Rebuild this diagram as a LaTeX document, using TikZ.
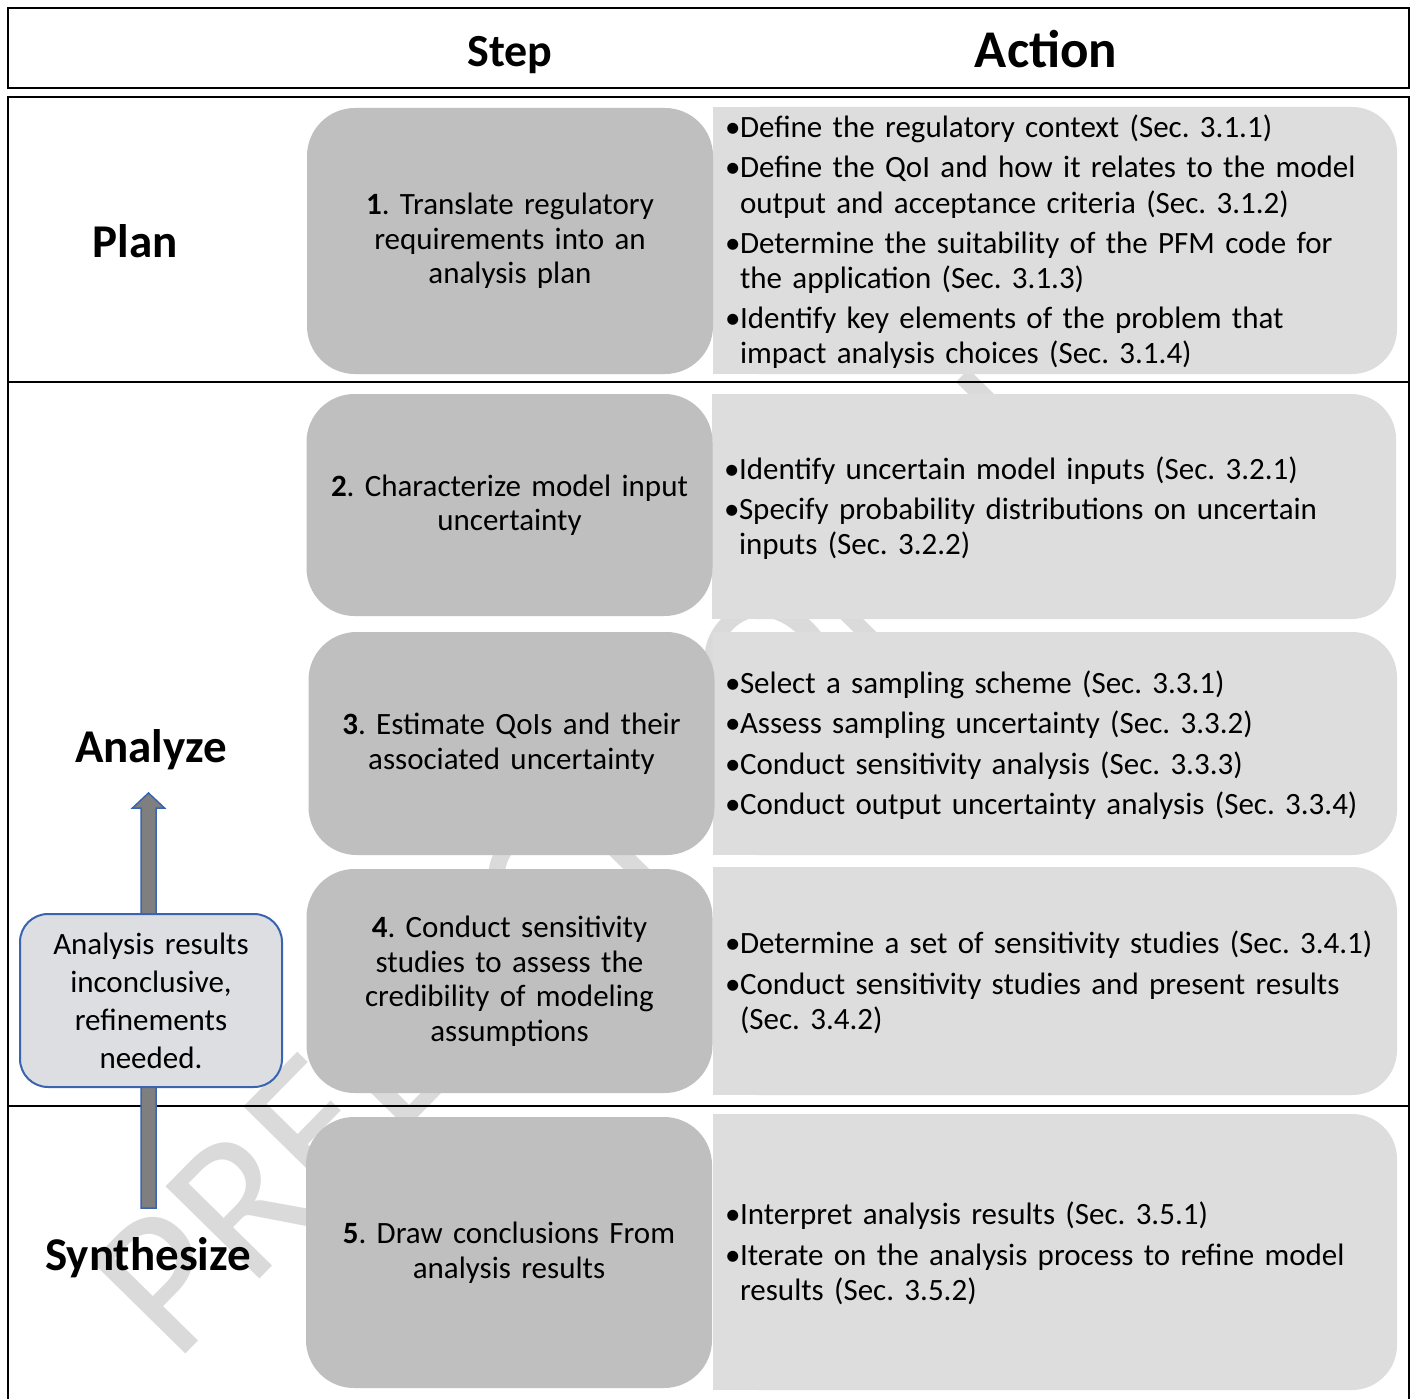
\documentclass[tikz,border=0pt]{standalone}
\usepackage{fontspec}
\setmainfont{Carlito}
\usetikzlibrary{calc}
\pgfdeclarelayer{bg}
\pgfsetlayers{bg,main}
\definecolor{stepgray}{HTML}{BFBFBF}
\definecolor{actgray}{HTML}{DDDDDD}
\definecolor{fbfill}{HTML}{DDDEE1}
\definecolor{fbblue}{HTML}{3A64B0}
\definecolor{arrgray}{HTML}{7F7F7F}
\definecolor{wmgray}{HTML}{DADADA}
\frenchspacing
\newcommand\bitem[1]{\par\hangindent=15pt\hangafter=1\noindent\makebox[15pt][l]{\textbullet}#1\par}
\newcommand\nl{\hfil\break}
\newcommand\actskip{\setlength{\parskip}{5.5pt}}
\newcommand\actend{\par\kern15pt}
\tikzset{
  stepbox/.style={fill=stepgray, rounded corners=48pt, align=center, text width=390pt,
    inner sep=0pt, minimum width=406pt, font=\fontsize{31}{34.5}\selectfont},
  actbox/.style={fill=actgray, rounded corners=45pt, align=left, text width=660pt,
    inner xsep=12pt, inner ysep=-12pt, font=\fontsize{31}{35}\selectfont,
    execute at begin node=\actskip},
  rowlabel/.style={anchor=base, inner sep=0pt, font=\fontsize{47}{50}\selectfont\bfseries},
  fbbox/.style={draw=fbblue, line width=2pt, fill=fbfill, rounded corners=28pt,
    minimum width=262pt, minimum height=173pt, text width=250pt, align=center,
    inner sep=0pt, font=\fontsize{31}{38}\selectfont},
  frameline/.style={line width=2.5pt, black}
}
\begin{document}
\begin{tikzpicture}[x=1pt,y=-1pt]
\useasboundingbox (0,0) rectangle (1411,1399);

% background and watermark (behind boxes)
\begin{pgfonlayer}{bg}
\fill[white] (0,0) rectangle (1411,1399);
\node[anchor=base west, rotate=45.5, inner sep=0pt, text=wmgray,
  font=\fontsize{205}{205}\selectfont] (wm) at (175,1365) {PREDECISIONAL};
\end{pgfonlayer}

% header
\draw[frameline] (8,8) rectangle (1409,88);
\node[rowlabel, font=\fontsize{46}{50}\selectfont\bfseries] (hstep) at (510,67) {Step};
\node[rowlabel, font=\fontsize{53}{56}\selectfont\bfseries] (hact) at (1046,68) {Action};

% main frame
\draw[frameline] (8,1410) -- (8,97) -- (1409,97) -- (1409,1410);
\draw[frameline] (8,382) -- (1409,382);
\draw[line width=2pt] (8,1106) -- (1409,1106);

% row labels
\node[rowlabel] (plan) at (135,258) {Plan};
\node[rowlabel] (analyze) at (151,762) {Analyze};
\node[rowlabel] (synth) at (148,1270) {Synthesize};

% action boxes
\node[actbox, minimum height=267pt] (a1) at (1055,240.5) {%
\bitem{Define the regulatory context (Sec. 3.1.1)}%
\bitem{Define the QoI and how it relates to the model\nl output and acceptance criteria (Sec. 3.1.2)}%
\bitem{Determine the suitability of the PFM code for\nl the application (Sec. 3.1.3)}%
\bitem{Identify key elements of the problem that\nl impact analysis choices (Sec. 3.1.4)}\actend};
\node[actbox, minimum height=225pt] (a2) at (1054,506.5) {%
\bitem{Identify uncertain model inputs (Sec. 3.2.1)}%
\bitem{Specify probability distributions on uncertain\nl inputs (Sec. 3.2.2)}\actend};
\node[actbox, minimum height=223pt] (a3) at (1055,743.5) {%
\bitem{Select a sampling scheme (Sec. 3.3.1)}%
\bitem{Assess sampling uncertainty (Sec. 3.3.2)}%
\bitem{Conduct sensitivity analysis (Sec. 3.3.3)}%
\bitem{Conduct output uncertainty analysis (Sec. 3.3.4)}\actend};
\node[actbox, minimum height=228pt] (a4) at (1055,981) {%
\bitem{Determine a set of sensitivity studies (Sec. 3.4.1)}%
\bitem{Conduct sensitivity studies and present results\nl (Sec. 3.4.2)}\actend};
\node[actbox, minimum height=276pt] (a5) at (1055,1252) {%
\bitem{Interpret analysis results (Sec. 3.5.1)}%
\bitem{Iterate on the analysis process to refine model\nl results (Sec. 3.5.2)}\actend};
\begin{pgfonlayer}{bg}
\foreach \n in {a1,a2,a3,a4,a5}{
  \fill[actgray] (\n.north west) rectangle ($(\n.south west)+(80,0)$);
}
\end{pgfonlayer}

% step boxes
\node[stepbox, minimum height=266pt] (s1) at (510,241) {\textbf{1}. Translate regulatory\\ requirements into an\\ analysis plan};
\node[stepbox, minimum height=222pt] (s2) at (509.5,505) {\textbf{2}. Characterize model input\\ uncertainty};
\node[stepbox, minimum height=223pt] (s3) at (511.5,743.5) {\textbf{3}. Estimate QoIs and their\\ associated uncertainty};
\node[stepbox, minimum height=224pt] (s4) at (509.5,981) {\textbf{4}. Conduct sensitivity\\ studies to assess the\\ credibility of modeling\\ assumptions};
\node[stepbox, minimum height=271pt] (s5) at (509,1252.5) {\textbf{5}. Draw conclusions From\\ analysis results};

% feedback arrow and box
\coordinate (arrS) at (148.5,1208);
\coordinate (arrE) at (148.5,793);
\draw[fbblue, line width=1.5pt, fill=arrgray]
  ($(arrS)+(-7.5,0)$) -- ($(arrE)+(-7.5,15)$) -- ($(arrE)+(-16,15)$) -- (arrE)
  -- ($(arrE)+(16,15)$) -- ($(arrE)+(7.5,15)$) -- ($(arrS)+(7.5,0)$) -- cycle;
\node[fbbox] (fb) at (151,1000.5) {Analysis results\\ inconclusive,\\ refinements\\ needed.};
\end{tikzpicture}
\end{document}
